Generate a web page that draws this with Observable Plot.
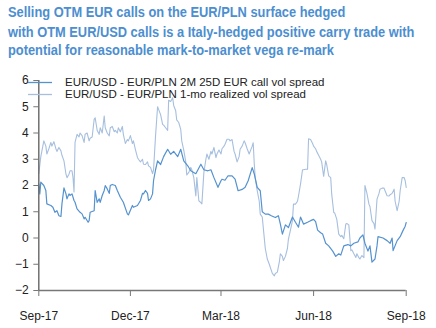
<!DOCTYPE html>
<html>
<head>
<meta charset="utf-8">
<script src="https://cdn.jsdelivr.net/npm/d3@7"></script>
<script src="https://cdn.jsdelivr.net/npm/@observablehq/plot@0.6"></script>
<style>
  html, body { margin: 0; padding: 0; background: #fff; }
  #wrap { position: relative; width: 436px; height: 328px; overflow: hidden; font-family: "Liberation Sans", Arial, sans-serif; }
  .tl { position: absolute; left: 8px; white-space: nowrap; font-weight: bold; font-size: 14.5px; line-height: 14.5px; color: #4c8ed0; transform: scaleX(0.885); transform-origin: left center; }
  #chart { position: absolute; left: 0; top: 60px; }
  #legend { position: absolute; left: 28px; top: 77px; font-size: 11.5px; color: #222; line-height: 11px; }
  .row { display: flex; align-items: center; height: 11.5px; white-space: nowrap; }
  .row svg { margin-right: 13px; }
</style>
</head>
<body>
<div id="wrap">
  <div id="title"></div>
  <div id="chart"></div>
  <div id="legend"></div>
</div>
<script>
// ---- Data ----
const titleLines = [
  "Selling OTM EUR calls on the EUR/PLN surface hedged",
  "with OTM EUR/USD calls is a Italy-hedged positive carry trade with",
  "potential for reasonable mark-to-market vega re-mark"
];
const seriesNames = [
  "EUR/USD - EUR/PLN 2M 25D EUR call vol spread",
  "EUR/USD - EUR/PLN 1-mo realized vol spread"
];
const startDate = "2017-09-01";
const endDate = "2018-09-01";
const xTickDates = ["2017-09-01", "2017-12-01", "2018-03-01", "2018-06-01", "2018-09-01"];
const xTickLabels = ["Sep-17", "Dec-17", "Mar-18", "Jun-18", "Sep-18"];
const yTicks = [-2, -1, 0, 1, 2, 3, 4, 5, 6];

// days after startDate
const impliedDays = [
  0,1,2,5,7,8,12,14,16,18,
  20,22,23,25,27,28,30,31,33,35,
  36,38,41,43,45,46,49,50,51,55,
  56,58,60,61,63,65,66,68,70,71,
  73,76,78,81,84,88,89,93,94,98,
  101,103,104,106,108,109,111,113,114,116,
  118,121,124,128,131,134,138,141,144,148,
  151,156,161,164,168,171,174,178,181,182,
  185,188,192,195,198,202,205,208,212,214,
  217,220,222,225,228,231,235,238,240,242,
  245,248,252,255,258,260,263,267,270,273,
  275,277,280,282,285,288,292,295,298,300,
  303,307,310,313,317,319,322,324,327,329,
  331,334,336,337,342,346,349,351,352,356,
  359,362,364,365
];
const impliedSpread = [
  2.06,1.68,2.13,2.0,1.81,1.3,1.24,1.17,0.98,1.04,
  0.85,0.82,1.3,1.91,1.68,1.49,1.68,1.62,1.68,1.43,
  1.36,1.11,0.98,0.92,0.73,0.79,0.6,0.66,0.98,1.04,
  1.81,1.36,1.49,1.36,1.62,1.81,2.0,1.87,1.7,2.0,
  2.04,2.0,1.81,1.55,1.36,0.92,0.88,1.24,1.17,1.24,
  1.43,1.7,1.68,1.81,1.7,1.43,1.49,1.68,2.19,2.6,
  2.94,2.8,3.1,3.38,3.19,3.3,3.1,3.38,2.94,2.75,
  2.56,2.45,2.81,2.6,2.56,2.6,2.3,1.93,2.18,2.24,
  2.2,2.37,2.37,2.24,1.8,1.85,1.93,2.18,2.68,2.45,
  1.93,1.8,1.0,0.91,0.91,0.85,0.78,0.85,0.53,0.15,
  0.5,0.4,0.8,0.6,0.41,0.8,0.53,0.6,0.66,0.71,
  0.62,0.3,0.2,0.15,-0.2,-0.3,-0.5,-0.7,-0.6,-0.65,
  -0.3,-0.25,-0.3,-0.2,-0.15,0.0,0.12,-0.2,-0.5,-0.3,
  -0.92,-0.8,-0.3,0.05,0.0,-0.1,-0.2,0.0,-0.48,-0.1,
  0.05,0.3,0.45,0.59
];

const realizedDays = [
  0,2,3,5,7,8,10,12,13,15,
  17,18,20,22,23,25,27,28,30,31,
  33,34,35,36,38,40,41,43,45,46,
  48,50,51,53,55,56,58,60,61,63,
  65,66,68,70,71,73,75,76,78,79,
  81,83,84,86,88,89,91,93,94,96,
  98,99,101,103,104,106,108,109,111,113,
  114,116,118,119,121,123,124,126,128,129,
  131,133,134,136,137,139,141,142,144,146,
  147,149,151,152,154,156,157,159,161,162,
  164,166,167,169,171,172,174,176,177,179,
  181,182,184,185,187,189,190,192,194,195,
  197,199,200,202,204,205,207,209,210,212,
  213,214,215,217,219,220,222,224,225,227,
  229,230,232,234,235,237,239,240,242,243,
  245,247,248,250,252,253,255,257,258,260,
  262,263,265,267,268,270,272,273,275,276,
  278,280,281,283,285,286,288,290,291,293,
  294,296,298,300,301,303,305,306,308,310,
  311,313,315,316,318,319,321,323,324,326,
  328,329,331,333,334,336,338,339,341,343,
  344,346,348,349,351,353,354,356,358,359,
  361,363,364,365
];
const realizedSpread = [
  2.45,3.1,3.3,3.7,3.5,3.2,3.4,3.64,3.5,3.67,
  3.4,3.3,3.45,3.32,3.15,2.94,2.43,2.3,2.43,2.56,
  2.56,2.3,1.75,3.64,3.95,3.85,4.0,3.9,3.64,3.95,
  4.0,3.7,3.8,3.85,4.52,4.58,4.1,3.95,4.2,4.0,
  4.65,4.2,4.0,3.89,4.2,4.25,4.05,4.1,4.0,4.2,
  4.05,4.25,3.95,3.6,3.75,3.7,3.9,3.6,3.7,3.37,
  3.07,3.0,2.9,3.0,2.81,2.8,2.9,2.75,2.69,2.45,
  2.6,3.9,5.0,4.9,4.7,4.33,4.3,4.2,4.1,5.25,
  5.2,5.34,5.05,4.85,4.5,4.4,4.14,3.7,3.35,2.9,
  2.4,2.5,2.69,2.6,2.3,1.6,2.3,1.42,1.35,1.3,
  2.5,3.0,3.2,3.0,3.3,3.2,3.45,3.06,3.2,3.35,
  3.2,3.4,3.5,3.57,3.76,3.76,3.7,3.75,3.3,3.2,
  2.9,3.1,3.38,3.5,3.7,3.63,3.4,3.2,3.3,3.5,
  3.63,2.87,2.3,1.8,1.4,0.91,0.8,0.0,-0.4,-0.8,
  -1.0,-1.12,-1.35,-1.44,-1.35,-1.3,-0.9,-0.6,-0.7,-0.86,
  -0.7,-0.4,-0.04,0.3,0.66,1.29,1.29,1.4,1.6,2.05,
  2.6,2.6,2.62,2.62,3.78,3.75,3.6,3.5,3.4,3.3,
  3.15,3.0,2.9,2.35,2.94,2.8,2.37,2.3,1.67,0.97,
  0.95,0.72,0.15,0.05,0.1,-0.03,0.53,0.55,0.5,-0.48,
  -0.45,-0.6,-0.74,-0.6,-0.75,-0.8,-0.67,-0.75,2.0,1.7,
  1.29,1.2,0.66,0.55,0.34,1.48,1.7,1.86,1.9,1.9,
  1.8,1.61,1.6,1.65,1.7,1.86,1.4,1.04,1.4,1.8,
  2.3,2.3,2.18,1.93
];

// ---- Build ----
const colors = ["#5592cf", "#a6bfdf"];
const t0 = new Date(startDate);
const t1 = new Date(endDate);
const implied = impliedDays.map((d, i) => ({date: d3.utcDay.offset(t0, d), value: impliedSpread[i]}));
const realized = realizedDays.map((d, i) => ({date: d3.utcDay.offset(t0, d), value: realizedSpread[i]}));
const tickDates = xTickDates.map(s => new Date(s));
const labelMap = new Map(tickDates.map((d, i) => [+d, xTickLabels[i]]));

// Title
const titleEl = document.getElementById("title");
const tops = [4.8, 24.6, 42.8];
titleLines.forEach((t, i) => {
  const div = document.createElement("div");
  div.className = "tl";
  div.style.top = tops[i] + "px";
  div.textContent = t;
  titleEl.appendChild(div);
});

const chart = Plot.plot({
  width: 436,
  height: 268,
  marginTop: 20,
  marginBottom: 38,
  marginLeft: 38.3,
  marginRight: 30.3,
  style: {fontFamily: "'Liberation Sans', Arial, sans-serif", fontSize: "12px", background: "transparent", overflow: "visible"},
  x: {type: "utc", domain: [t0, t1]},
  y: {domain: [-2, 6]},
  marks: [
    Plot.line(realized, {x: "date", y: "value", stroke: colors[1], strokeWidth: 1.1}),
    Plot.line(implied, {x: "date", y: "value", stroke: colors[0], strokeWidth: 1.2}),
    Plot.ruleY([-2], {stroke: "#777", strokeWidth: 1.3}),
    Plot.ruleX([t0], {stroke: "#666", strokeWidth: 1.4}),
    Plot.axisY({ticks: yTicks, tickSize: 5, tickPadding: 5, stroke: "#777", fill: "#222", fontSize: 12, label: null}),
    Plot.axisX({ticks: tickDates, tickFormat: d => labelMap.get(+d), tickSize: 6, tickPadding: 15, stroke: "#777", fill: "#222", fontSize: 12, label: null})
  ]
});
document.getElementById("chart").appendChild(chart);

// Legend
const legend = document.getElementById("legend");
seriesNames.forEach((name, i) => {
  const row = document.createElement("div");
  row.className = "row";
  row.innerHTML = `<svg width="24" height="11"><line x1="0" x2="24" y1="5.5" y2="5.5" stroke="${colors[i]}" stroke-width="1.3"/></svg><span>${name}</span>`;
  legend.appendChild(row);
});
</script>
</body>
</html>
